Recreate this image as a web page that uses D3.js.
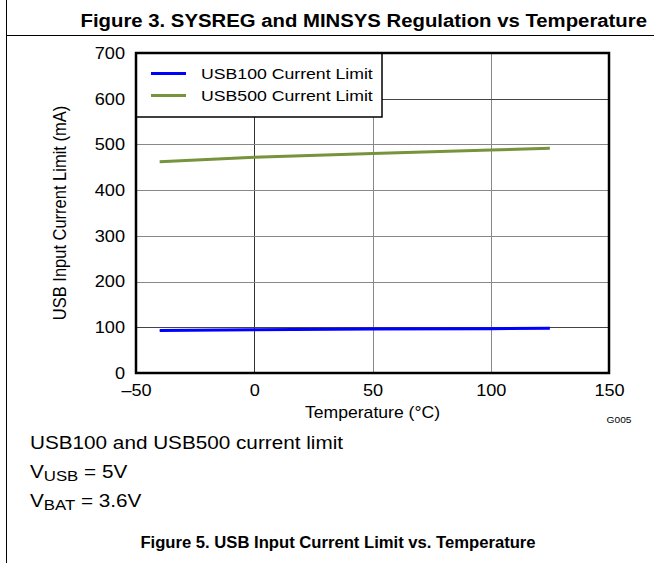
<!DOCTYPE html>
<meta charset="utf-8">
<script src="https://d3js.org/d3.v7.min.js"></script>
<style>
    body { margin: 0; background: #fff; }
    svg { display: block; font-family: "Liberation Sans", Arial, sans-serif; }
</style>
<body>
<script>

    // data
    var temps = [-40, 0, 50, 100, 125];
    var usb100 = [93, 94.5, 96, 97, 98];
    var usb500 = [462, 472, 480, 488, 491.5];
    var xTicks = [-50, 0, 50, 100, 150];
    var yTicks = [0, 100, 200, 300, 400, 500, 600, 700];
    var seriesNames = ["USB100 Current Limit", "USB500 Current Limit"];
    var seriesColors = ["#0000ff", "#77933c"];

    var W = 654, H = 563;
    var margin = { top: 53, right: 45, bottom: 190, left: 136 },
        width = W - margin.left - margin.right,
        height = H - margin.top - margin.bottom;

    // the source picture is a bit wider than tall, so text gets a small x stretch
    var SX = 1.1;

    var svg = d3.select("body").append("svg")
        .attr("width", W)
        .attr("height", H);

    // text placed at (x,y) and stretched horizontally
    function stext(parent, x, y, sx) {
        return parent.append("text")
            .attr("transform", "translate(" + x + "," + y + ") scale(" + (sx || SX) + ",1)");
    }

    // page frame lines
    svg.append("line").attr("x1", 6.5).attr("x2", 6.5).attr("y1", 0).attr("y2", H)
        .attr("stroke", "#000").attr("stroke-width", 1);
    svg.append("line").attr("x1", 6).attr("x2", W).attr("y1", 35.5).attr("y2", 35.5)
        .attr("stroke", "#000").attr("stroke-width", 1);

    // previous figure caption at the top
    stext(svg, 647, 27, 1.13)
        .attr("text-anchor", "end")
        .attr("font-weight", "bold")
        .attr("font-size", "18px")
        .text("Figure 3. SYSREG and MINSYS Regulation vs Temperature");

    var g = svg.append("g")
        .attr("transform", "translate(" + margin.left + "," + margin.top + ")");

    var x = d3.scaleLinear().domain([-50, 150]).range([0, width]);
    var y = d3.scaleLinear().domain([0, 700]).range([height, 0]);

    // grid
    g.append("g").selectAll("line").data(xTicks.slice(1, -1)).enter().append("line")
        .attr("x1", function (d) { return Math.round(x(d)) + 0.5; })
        .attr("x2", function (d) { return Math.round(x(d)) + 0.5; })
        .attr("y1", 0).attr("y2", height)
        .attr("stroke", function (d) { return d == 0 ? "#333" : "#888"; });
    g.append("g").selectAll("line").data(yTicks.slice(1, -1)).enter().append("line")
        .attr("y1", function (d) { return Math.round(y(d)) + 0.5; })
        .attr("y2", function (d) { return Math.round(y(d)) + 0.5; })
        .attr("x1", 0).attr("x2", width)
        .attr("stroke", function (d) { return d == 600 || d == 100 ? "#444" : "#888"; });

    // lines
    var line = d3.line()
        .x(function (d) { return x(d[0]); })
        .y(function (d) { return y(d[1]); });
    [usb100, usb500].forEach(function (vals, i) {
        g.append("path")
            .datum(temps.map(function (t, j) { return [t, vals[j]]; }))
            .attr("fill", "none")
            .attr("stroke", seriesColors[i])
            .attr("stroke-width", 3)
            .attr("d", line);
    });

    // legend
    var leg = g.append("g");
    leg.append("rect")
        .attr("x", 0).attr("y", 0).attr("width", 246).attr("height", 64)
        .attr("fill", "#fff").attr("stroke", "#000").attr("stroke-width", 1.5);
    seriesNames.forEach(function (name, i) {
        leg.append("line")
            .attr("x1", 15).attr("x2", 50)
            .attr("y1", 20.5 + i * 22).attr("y2", 20.5 + i * 22)
            .attr("stroke", seriesColors[i]).attr("stroke-width", 3);
        stext(leg, 65, 26 + i * 22, 1.14)
            .attr("font-size", "15.5px")
            .text(name);
    });

    // frame
    g.append("rect")
        .attr("x", 0).attr("y", 0).attr("width", width).attr("height", height)
        .attr("fill", "none").attr("stroke", "#000").attr("stroke-width", 2.5);

    // axes
    var xAxis = g.append("g")
        .attr("transform", "translate(0," + height + ")")
        .call(d3.axisBottom(x).tickValues(xTicks).tickSize(0).tickPadding(11)
            .tickFormat(function (d) { return d < 0 ? "\u2013" + Math.abs(d) : d; }));
    var yAxis = g.append("g")
        .call(d3.axisLeft(y).tickValues(yTicks).tickSize(0).tickPadding(10));
    [xAxis, yAxis].forEach(function (a) {
        a.select(".domain").remove();
        a.selectAll("text").attr("font-size", "16.5px").attr("fill", "#000")
            .attr("font-family", "\"Liberation Sans\", Arial, sans-serif")
            .attr("transform", "scale(" + SX + ",1)");
    });

    // axis titles
    stext(g, width / 2, height + 45)
        .attr("text-anchor", "middle")
        .attr("font-size", "16px")
        .text("Temperature (\u00B0C)");
    g.append("text")
        .attr("transform", "translate(-70," + (height / 2) + ") rotate(-90) scale(1," + SX + ")")
        .attr("text-anchor", "middle")
        .attr("font-size", "16.5px")
        .text("USB Input Current Limit (mA)");
    stext(g, width + 10, height + 50, 1.13)
        .attr("text-anchor", "middle")
        .attr("font-size", "9px")
        .text("G005");

    // conditions
    var notes = svg.append("g").attr("font-size", "18.5px");
    stext(notes, 30, 449, 1.12).text("USB100 and USB500 current limit");
    var t1 = stext(notes, 30, 478, 1.12);
    t1.append("tspan").text("V");
    t1.append("tspan").attr("dy", 3).attr("font-size", "15px").text("USB");
    t1.append("tspan").attr("dy", -3).text(" = 5V");
    var t2 = stext(notes, 30, 507, 1.12);
    t2.append("tspan").text("V");
    t2.append("tspan").attr("dy", 3).attr("font-size", "15px").text("BAT");
    t2.append("tspan").attr("dy", -3).text(" = 3.6V");

    // figure caption
    stext(svg, 338, 548, 1.04)
        .attr("text-anchor", "middle")
        .attr("font-weight", "bold")
        .attr("font-size", "16px")
        .text("Figure 5. USB Input Current Limit vs. Temperature");

</script>
</body>
